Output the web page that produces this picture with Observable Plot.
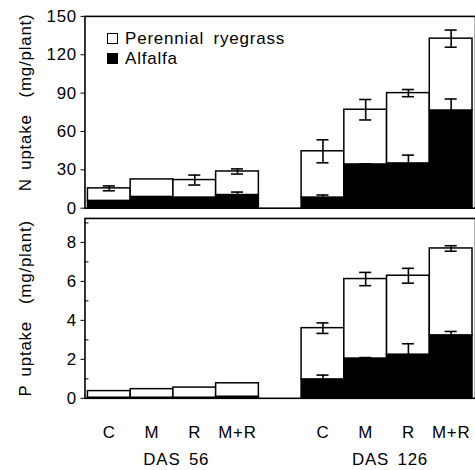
<!DOCTYPE html>
<html>
<head>
<meta charset="utf-8">
<script src="https://cdn.jsdelivr.net/npm/d3@7"></script>
<script src="https://cdn.jsdelivr.net/npm/@observablehq/plot@0.6"></script>
<style>
  html, body { margin: 0; padding: 0; background: #fff; overflow: hidden; }
  #wrap { position: relative; width: 475px; height: 470px; overflow: hidden; font-family: "Liberation Sans", Arial, sans-serif; }
  #wrap svg { display: block; font-family: "Liberation Sans", Arial, sans-serif; font-size: 17px; letter-spacing: 0.8px; word-spacing: 3px; background: #fff; overflow: visible; }
  .legend { position: absolute; left: 107px; font-size: 17px; letter-spacing: 0.8px; word-spacing: 4px; line-height: 19px; color: #000; }
  .legend .row { display: flex; align-items: center; height: 19.5px; }
  .legend .sw { width: 9px; height: 9px; border: 1.5px solid #000; margin-right: 7px; }
</style>
</head>
<body>
<div id="wrap"></div>
<script>
// ---- data ----
const treatments = ["C", "M", "R", "M+R"];
const dates = ["DAS 56", "DAS 126"];
const species = ["Alfalfa", "Perennial ryegrass"];
// order: DAS 56 (C, M, R, M+R), then DAS 126 (C, M, R, M+R)
const nAlfalfa    = [5.7, 8.8, 8.3, 10.3, 8.3, 34.2, 35.0, 76.4];
const nRyegrass   = [9.8, 13.7, 13.7, 18.4, 36.2, 42.8, 55.0, 56.2];
const nTotalErr   = [1.9, 0, 3.9, 2.0, 9.0, 8.0, 2.8, 6.7];
const nAlfalfaErr = [0, 0, 0, 2.3, 2.0, 0.5, 6.5, 9.0];
const pAlfalfa    = [0.03, 0.03, 0.03, 0.08, 0.97, 2.04, 2.24, 3.23];
const pRyegrass   = [0.34, 0.44, 0.52, 0.69, 2.63, 4.08, 4.05, 4.46];
const pTotalErr   = [0, 0, 0, 0, 0.27, 0.34, 0.38, 0.14];
const pAlfalfaErr = [0, 0, 0, 0, 0.22, 0.05, 0.56, 0.20];
const nTicks = [0, 30, 60, 90, 120, 150];
const pTicks = [0, 2, 4, 6, 8];
const pMinorTicks = [1, 3, 5, 7, 9];

const speciesColor = {"Alfalfa": "black", "Perennial ryegrass": "white"};

// ---- build tables ----
const keys = [];
dates.forEach(d => treatments.forEach(t => keys.push(d + "|" + t)));
const xDomain = [...keys.slice(0, 4), "gap", ...keys.slice(4)];

function stackRows(alf, rye) {
  const rows = [];
  keys.forEach((k, i) => {
    rows.push({key: k, species: species[0], value: alf[i]});
    rows.push({key: k, species: species[1], value: rye[i]});
  });
  return rows;
}
function errRows(alf, rye, totErr, alfErr) {
  const rows = [];
  keys.forEach((k, i) => {
    if (alfErr[i] > 0) rows.push({key: k, y: alf[i], e: alfErr[i]});
    if (totErr[i] > 0) rows.push({key: k, y: alf[i] + rye[i], e: totErr[i]});
  });
  return rows;
}

const W = 478, ML = 85;
const bw = Plot.scale({x: {type: "band", domain: xDomain, range: [ML, W]}}).bandwidth;
const capInset = (bw - 8) / 2;

function panel({rows, errs, yDomain, ticks, minor, label, labelDy, height, mt, mb, bottom}) {
  const marks = [
    Plot.barY(rows, {x: "key", y: "value", z: "species", fill: d => speciesColor[d.species], stroke: "black", strokeWidth: 1.5}),
    Plot.ruleX(errs, {x: "key", y1: d => d.y - d.e, y2: d => d.y + d.e, stroke: "black", strokeWidth: 1.6}),
    Plot.tickY(errs, {x: "key", y: d => d.y + d.e, stroke: "black", strokeWidth: 1.6, insetLeft: capInset, insetRight: capInset}),
    Plot.tickY(errs, {x: "key", y: d => d.y - d.e, stroke: "black", strokeWidth: 1.6, insetLeft: capInset, insetRight: capInset}),
    Plot.frame({stroke: "black", strokeWidth: 1.6}),
    Plot.axisY({ticks, tickSize: 4, tickFormat: () => "", label: null}),
    Plot.text(ticks, {y: d => d, text: d => String(d), frameAnchor: "left", dx: -8, textAnchor: "end", lineAnchor: "middle", fontSize: 17}),
    Plot.text([label], {frameAnchor: "left", rotate: -90, dx: -60, dy: labelDy, fontSize: 17, textAnchor: "middle", lineAnchor: "middle", text: d => d})
  ];
  if (minor) marks.push(Plot.axisY({ticks: minor, tickSize: 4, dx: 4, tickFormat: () => "", label: null}));
  if (bottom) {
    marks.push(Plot.axisX({tickSize: 0, tickFormat: () => "", label: null}));
    marks.push(Plot.text(keys, {x: d => d, text: d => d.split("|")[1], frameAnchor: "bottom", dy: 35, fontSize: 17, lineAnchor: "middle"}));
    marks.push(Plot.text(dates.map(d => ({key: d + "|M", label: d})), {
      x: "key", text: "label", frameAnchor: "bottom", dy: 62, dx: bw / 2 + 5, fontSize: 17, lineAnchor: "middle"}));
  } else {
    marks.push(Plot.axisX({ticks: [], label: null}));
  }
  return Plot.plot({
    width: W, height, marginLeft: ML, marginRight: 0, marginTop: mt, marginBottom: mb,
    x: {type: "band", domain: xDomain, padding: 0},
    y: {domain: yDomain},
    marks
  });
}

const topPanel = panel({
  rows: stackRows(nAlfalfa, nRyegrass), errs: errRows(nAlfalfa, nRyegrass, nTotalErr, nAlfalfaErr),
  yDomain: [0, 150], ticks: nTicks, label: "N uptake  (mg/plant)", labelDy: -10, height: 211, mt: 16, mb: 2
});
const bottomPanel = panel({
  rows: stackRows(pAlfalfa, pRyegrass), errs: errRows(pAlfalfa, pRyegrass, pTotalErr, pAlfalfaErr),
  yDomain: [0, 9.23], ticks: pTicks, minor: pMinorTicks, label: "P uptake  (mg/plant)", labelDy: 0, height: 259, mt: 8, mb: 70, bottom: true
});

const wrap = document.getElementById("wrap");
wrap.appendChild(topPanel);
wrap.appendChild(bottomPanel);

// legend inside the top panel
const legend = document.createElement("div");
legend.className = "legend";
legend.style.top = "29px";
[["Perennial ryegrass", "white"], ["Alfalfa", "black"]].forEach(([name, color]) => {
  const row = document.createElement("div");
  row.className = "row";
  const sw = document.createElement("span");
  sw.className = "sw";
  sw.style.background = color;
  const tx = document.createElement("span");
  tx.textContent = name;
  row.appendChild(sw);
  row.appendChild(tx);
  legend.appendChild(row);
});
wrap.appendChild(legend);
</script>
</body>
</html>
